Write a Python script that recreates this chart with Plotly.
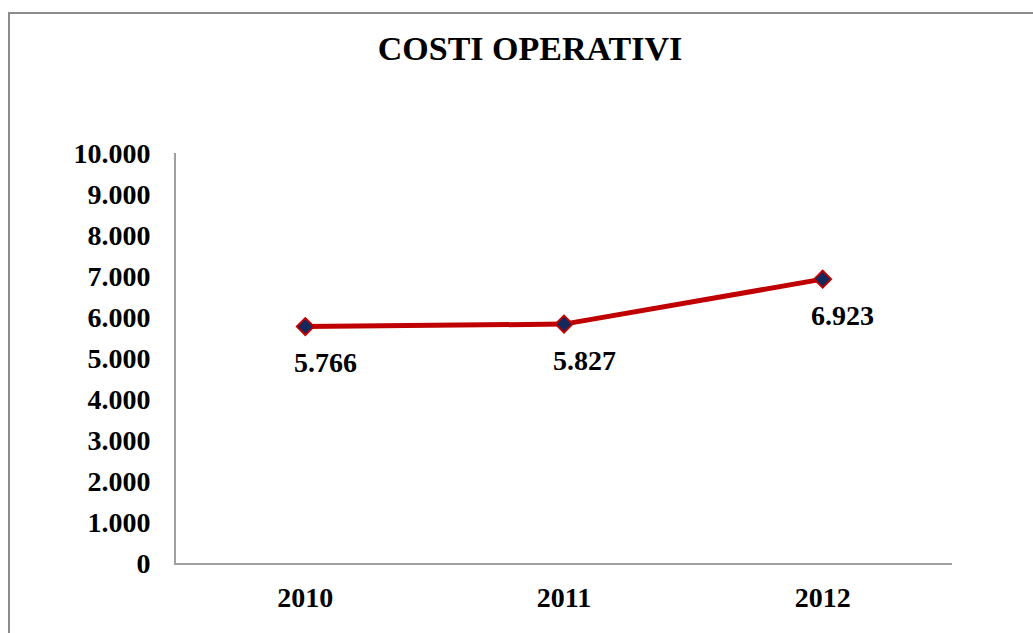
import plotly.graph_objects as go

# Operating costs per year
years = ["2010", "2011", "2012"]
costs = [5766, 5827, 6923]
cost_labels = ["5.766", "5.827", "6.923"]

tick_values = [0, 1000, 2000, 3000, 4000, 5000, 6000, 7000, 8000, 9000, 10000]
tick_texts = ["0", "1.000", "2.000", "3.000", "4.000", "5.000",
              "6.000", "7.000", "8.000", "9.000", "10.000"]

FONT = "Liberation Serif"
W, H = 1033, 633
ML, MR, MT, MB = 176, 81, 153, 70

fig = go.Figure()
fig.add_trace(go.Scatter(
    x=years, y=costs, mode="lines+markers",
    line=dict(color="#C00000", width=5),
    marker=dict(symbol="diamond", size=13, color="#12295E",
                line=dict(color="#C00000", width=2)),
    hoverinfo="skip", showlegend=False,
))

# value labels under each point (category axis positions are indices)
for i, (val, lab) in enumerate(zip(costs, cost_labels)):
    fig.add_annotation(
        x=i, y=val, text=f"<b>{lab}</b>", showarrow=False,
        xshift=20, yshift=-36,
        font=dict(family=FONT, size=28, color="black"),
    )

# outer frame of the chart area
pw, ph = W - ML - MR, H - MT - MB
fig.add_shape(
    type="rect", xref="paper", yref="paper",
    x0=(9 - ML) / pw, x1=(W + 20 - ML) / pw,
    y0=-(H + 20 - MT - ph) / ph, y1=(H - MB - 13) / ph,
    line=dict(color="#8C8C8C", width=2), fillcolor="rgba(0,0,0,0)",
    layer="below",
)

fig.update_layout(
    width=W, height=H,
    margin=dict(l=ML, r=MR, t=MT, b=MB, pad=0),
    paper_bgcolor="white", plot_bgcolor="white",
    title=dict(text="<b>COSTI OPERATIVI</b>", x=530 / W, xref="container",
               xanchor="center", y=1 - 48 / H, yref="container",
               yanchor="middle",
               font=dict(family=FONT, size=34, color="black")),
    xaxis=dict(
        type="category", range=[-0.5, 2.5], showgrid=False, zeroline=False,
        showline=True, linecolor="#A0A0A0", linewidth=2, ticks="",
        ticklabelstandoff=8,
        tickfont=dict(family=FONT, size=28, color="black"),
        tickvals=years, ticktext=[f"<b>{y}</b>" for y in years],
    ),
    yaxis=dict(
        range=[0, 10000], showgrid=False, zeroline=False,
        showline=True, linecolor="#A0A0A0", linewidth=2, ticks="",
        ticklabelstandoff=18,
        tickvals=tick_values, ticktext=[f"<b>{t}</b>" for t in tick_texts],
        tickfont=dict(family=FONT, size=28, color="black"),
    ),
)

fig.write_html("out.html")
